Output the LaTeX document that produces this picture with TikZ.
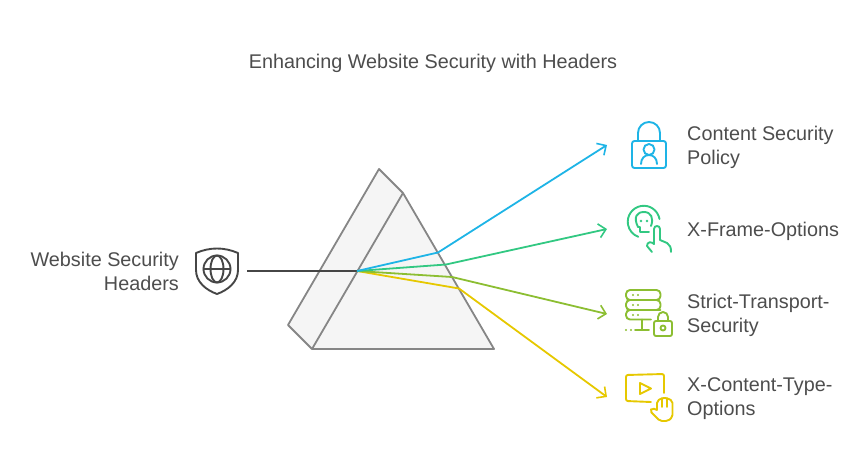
\documentclass[tikz,border=0pt]{standalone}
\usepackage{fontspec}
\setmainfont{Liberation Sans}
\usetikzlibrary{arrows.meta}
\definecolor{inkgrey}{HTML}{4D4D4D}
\definecolor{prismgrey}{HTML}{868686}
\definecolor{prismfill}{HTML}{F5F5F5}
\definecolor{raydark}{HTML}{464646}
\definecolor{rayblue}{HTML}{1EB4E6}
\definecolor{raygreen}{HTML}{32C882}
\definecolor{raylime}{HTML}{8CBE32}
\definecolor{rayyellow}{HTML}{E6C800}
\tikzset{
  label/.style = {text = inkgrey, font = \fontsize{19.8}{24}\selectfont, inner sep = 0pt},
  rightlabel/.style = {label, anchor = west, align = left},
  ray/.style = {line width = 1.8pt, line join = round, -{Straight Barb[length = 7pt, width = 14pt, line width = 1.6pt]}},
  icon/.style = {line width = 1.9pt, line cap = round, line join = round},
  prism/.style = {draw = prismgrey, line width = 1.8pt, line join = round, fill = prismfill}
}
\begin{document}
\begin{tikzpicture}[x = 1pt, y = -1pt]
\useasboundingbox (0, 0) rectangle (866, 470);
\node[label] (title) at (433, 63) {Enhancing Website Security with Headers};
\node[label, anchor = east, align = right] (source) at (179, 271) {Website Security\\Headers};
\node[rightlabel] (csp) at (687, 147) {Content Security\\Policy};
\node[rightlabel] (xfo) at (687, 231) {X-Frame-Options};
\node[rightlabel] (hsts) at (687, 315) {Strict-Transport-\\Security};
\node[rightlabel] (xcto) at (687, 399) {X-Content-Type-\\Options};

% prism
\coordinate (apex) at (379, 169);
\coordinate (edge) at (403, 193);
\coordinate (right) at (494, 349);
\coordinate (foot) at (312, 349);
\coordinate (back) at (288, 325);
\draw[prism] (apex) -- (edge) -- (right) -- (foot) -- (back) -- cycle;
\draw[prism] (edge) -- (foot);

% rays
\coordinate (start) at (247, 271);
\coordinate (focus) at (357, 271);
\coordinate (bendcsp) at (438, 252.5);
\coordinate (bendxfo) at (446, 264.5);
\coordinate (bendhsts) at (452, 277);
\coordinate (bendxcto) at (459, 288.5);
\coordinate (tipcsp) at (607, 145);
\coordinate (tipxfo) at (607, 229);
\coordinate (tiphsts) at (607, 314);
\coordinate (tipxcto) at (607, 397);
\draw[line width = 1.8pt, raydark] (start) -- (focus);
\draw[ray, rayyellow] (focus) -- (bendxcto) -- (tipxcto);
\draw[ray, raylime] (focus) -- (bendhsts) -- (tiphsts);
\draw[ray, raygreen] (focus) -- (bendxfo) -- (tipxfo);
\draw[ray, rayblue] (focus) -- (bendcsp) -- (tipcsp);

% shield with globe
\begin{scope}[icon, draw = raydark]
\draw (196, 253) .. controls (210, 247) and (224, 247) .. (238, 253) -- (238, 270) .. controls (238, 282) and (228, 290) .. (217, 294) .. controls (206, 290) and (196, 282) .. (196, 270) -- cycle;
\draw (217, 269) circle (13.5);
\draw (217, 269) ellipse (6.5 and 13.5);
\draw (203.5, 269) -- (230.5, 269);
\end{scope}

% lock with person
\begin{scope}[icon, draw = rayblue]
\draw[rounded corners = 2.5pt] (632, 141) rectangle (666, 168);
\draw (638, 141) -- (638, 133) arc[start angle = 180, end angle = 360, radius = 11] -- (660, 141);
\draw (649, 149.5) circle (5.5);
\draw (641, 164) .. controls (641, 152) and (657, 152) .. (657, 164);
\end{scope}

% skull under a pointing hand
\begin{scope}[icon, draw = raygreen]
\draw (659.5, 219) arc[start angle = -10, end angle = -250, radius = 16];
\draw (638, 227) .. controls (633, 217) and (637, 212) .. (644, 212) .. controls (651, 212) and (654, 218) .. (651, 226);
\draw (638, 227) -- (640, 227) -- (640, 232) -- (649, 232);
\fill[raygreen] (641, 221) circle (1.4) (647, 221) circle (1.4);
\draw (652, 252) -- (647, 246) .. controls (647, 242) and (651, 241) .. (654, 244) -- (654, 229) .. controls (654, 225) and (660, 225) .. (660, 229) -- (660, 240) -- (667, 243) .. controls (670, 245) and (671, 247) .. (671, 252);
\end{scope}

% server rack with padlock
\begin{scope}[icon, draw = raylime]
\draw[rounded corners = 4pt] (626, 290) rectangle (660.5, 300);
\draw[rounded corners = 4pt] (626, 300) rectangle (660.5, 310);
\draw[rounded corners = 4pt] (660.5, 310) -- (626, 310) -- (626, 319.5) -- (651, 319.5);
\draw (642, 319.5) -- (642, 330);
\draw (635, 330) -- (649, 330);
\fill[raylime] (633, 295) circle (1.2) (638, 295) circle (1.2) (633, 305) circle (1.2) (638, 305) circle (1.2) (633, 315) circle (1.2) (638, 315) circle (1.2) (626, 330) circle (1.2) (631, 330) circle (1.2);
\draw[rounded corners = 2pt] (654, 321) rectangle (672, 336);
\draw (658, 321) -- (658, 317) arc[start angle = 180, end angle = 360, radius = 5] -- (668, 321);
\draw (663, 328) circle (2.5);
\end{scope}

% video frame with raised hand
\begin{scope}[icon, draw = rayyellow]
\draw[rounded corners = 2pt] (651, 402) -- (626, 401) -- (626, 375) -- (664, 374) -- (664, 393);
\draw (640, 383) -- (651, 388.5) -- (640, 394) -- cycle;
\draw[rounded corners = 2pt] (657, 410) -- (657, 401) -- (662, 398) -- (667, 398) -- (672.5, 401) -- (672.5, 417) -- (668, 421) -- (660, 421) -- (650, 411) -- (652, 408) -- (657, 410);
\draw (662, 398) -- (662, 407);
\draw (667, 398) -- (667, 407);
\end{scope}
\end{tikzpicture}
\end{document}
